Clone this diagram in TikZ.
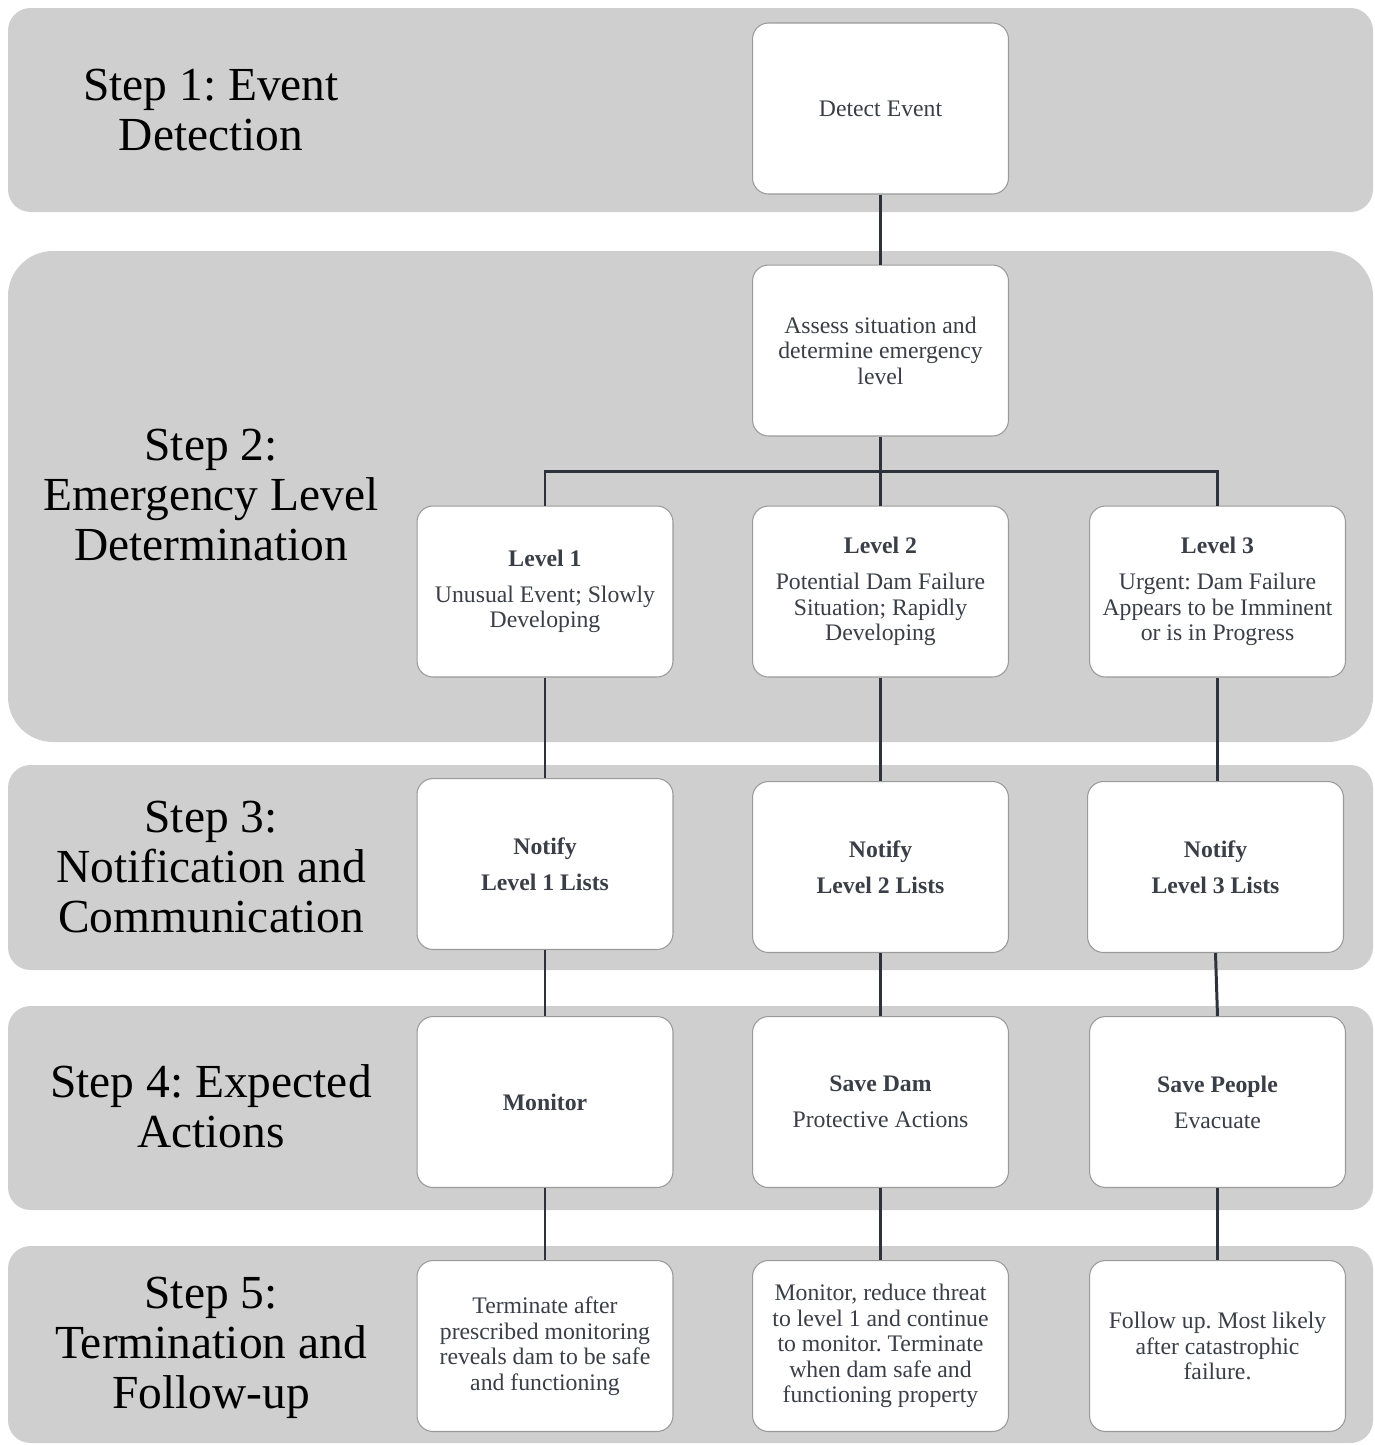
\documentclass[tikz,border=0pt]{standalone}
\usepackage{fontspec}
\setmainfont{Liberation Serif}
\frenchspacing
\definecolor{bandgray}{HTML}{CFCFCF}
\definecolor{boxline}{HTML}{9A9A9A}
\definecolor{boxtext}{HTML}{3A3E46}
\definecolor{linkcol}{HTML}{2E333B}
\tikzset{
  band/.style={fill=bandgray, draw=none},
  stepbox/.style={draw=boxline, line width=0.6pt, fill=white, rounded corners=0.32cm,
    minimum width=5.12cm, minimum height=3.42cm, align=center, text=boxtext,
    font=\fontsize{13.5}{14.5}\selectfont, inner sep=2pt},
  steplabel/.style={align=center, text=black, font=\fontsize{27}{28.5}\selectfont},
  link/.style={draw=linkcol, line width=1.7pt}
}
\begin{document}
\begin{tikzpicture}[x=0.02cm, y=-0.02cm]
\useasboundingbox (0,0) rectangle (1375,1445);
% bands
\fill[band, rounded corners=0.45cm] (8,8) rectangle (1373,212);
\fill[band, rounded corners=0.9cm] (8,251) rectangle (1373,742);
\fill[band, rounded corners=0.45cm] (8,765) rectangle (1373,970);
\fill[band, rounded corners=0.45cm] (8,1006) rectangle (1373,1210);
\fill[band, rounded corners=0.45cm] (8,1246) rectangle (1373,1443);
% step labels
\node[steplabel] (s1) at (211,110) {Step 1: Event\\Detection};
\node[steplabel] (s2) at (211,495) {Step 2:\\Emergency Level\\Determination};
\node[steplabel] (s3) at (211,867) {Step 3:\\Notification and\\Communication};
\node[steplabel] (s4) at (211,1106) {Step 4: Expected\\Actions};
\node[steplabel] (s5) at (211,1348) {Step 5:\\Termination and\\Follow-up};
% boxes
\node[stepbox] (det) at (880.5,108.5) {Detect Event};
\node[stepbox] (ass) at (880.5,350.5) {Assess situation and\\determine emergency\\level};
\node[stepbox] (l1) at (545,591.5) {\textbf{Level 1}\\[6pt]Unusual Event; Slowly\\Developing};
\node[stepbox] (l2) at (880.5,591.5) {\textbf{Level 2}\\[6pt]Potential Dam Failure\\Situation; Rapidly\\Developing};
\node[stepbox] (l3) at (1217.5,591.5) {\textbf{Level 3}\\[6pt]Urgent: Dam Failure\\Appears to be Imminent\\or is in Progress};
\node[stepbox] (n1) at (545,864) {\textbf{Notify}\\[6pt]\textbf{Level 1 Lists}};
\node[stepbox] (n2) at (880.5,867) {\textbf{Notify}\\[6pt]\textbf{Level 2 Lists}};
\node[stepbox] (n3) at (1215.5,867) {\textbf{Notify}\\[6pt]\textbf{Level 3 Lists}};
\node[stepbox] (a1) at (545,1102) {\textbf{Monitor}};
\node[stepbox] (a2) at (880.5,1102) {\textbf{Save Dam}\\[6pt]Protective Actions};
\node[stepbox] (a3) at (1217.5,1102) {\textbf{Save People}\\[6pt]Evacuate};
\node[stepbox] (t1) at (545,1346) {Terminate after\\prescribed monitoring\\reveals dam to be safe\\and functioning};
\node[stepbox] (t2) at (880.5,1346) {Monitor, reduce threat\\to level 1 and continue\\to monitor. Terminate\\when dam safe and\\functioning property};
\node[stepbox] (t3) at (1217.5,1346) {Follow up. Most likely\\after catastrophic\\failure.};
% connectors
\coordinate (bar) at (880.5,471);
\draw[link] (det.south) -- (ass.north);
\draw[link] (ass.south) -- (bar);
\draw[link] (l1.north) |- (bar);
\draw[link] (bar) -| (l3.north);
\draw[link] (bar) -- (l2.north);
\draw[link] (l1.south) -- (n1.north);
\draw[link] (l2.south) -- (n2.north);
\draw[link] (l3.south) -- (l3.south |- n3.north);
\draw[link] (n1.south) -- (a1.north);
\draw[link] (n2.south) -- (a2.north);
\draw[link] (n3.south) -- (a3.north);
\draw[link] (a1.south) -- (t1.north);
\draw[link] (a2.south) -- (t2.north);
\draw[link] (a3.south) -- (t3.north);
\end{tikzpicture}
\end{document}
